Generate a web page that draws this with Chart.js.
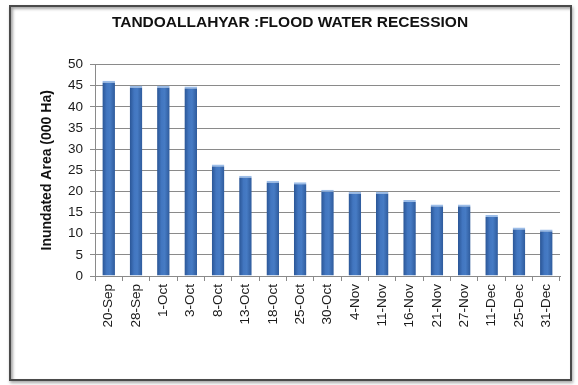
<!DOCTYPE html>
<html>
<head>
<meta charset="utf-8">
<title>Tando Allahyar flood water recession</title>
<script src="https://cdn.jsdelivr.net/npm/chart.js@4/dist/chart.umd.min.js"></script>
<style>
  html, body { margin: 0; padding: 0; background: #ffffff; }
  #wrap { position: relative; width: 578px; height: 385px; overflow: hidden; }
  #frame {
    position: absolute; left: 9px; top: 5px; width: 559px; height: 372px;
    border: 2px solid #4a4a4a;
    box-shadow: inset 2px 2px 3px rgba(0,0,0,0.35), 1px 2px 3px rgba(0,0,0,0.35);
    background: #ffffff;
  }
  #chart { position: absolute; left: 0; top: 0; }
</style>
</head>
<body>
<div id="wrap">
  <div id="frame"></div>
  <canvas id="chart" width="578" height="385"></canvas>
</div>
<script>
// Survey dates and inundated area (thousand hectares)
const dates = ['20-Sep', '28-Sep', '1-Oct', '3-Oct', '8-Oct', '13-Oct', '18-Oct', '25-Oct',
  '30-Oct', '4-Nov', '11-Nov', '16-Nov', '21-Nov', '27-Nov', '11-Dec', '25-Dec', '31-Dec'];
const inundatedArea = [46.2, 45.0, 45.0, 44.8, 26.4, 23.7, 22.5, 22.2,
  20.4, 19.9, 19.9, 18.0, 16.9, 16.9, 14.4, 11.5, 11.0];
const yTicks = [0, 5, 10, 15, 20, 25, 30, 35, 40, 45, 50];

const BAR_PCT = 0.46;
const FONT = "'Liberation Sans', Arial, sans-serif";

// Cylinder-like shading across each bar
function barFill(ctx) {
  const chart = ctx.chart;
  const xs = chart.scales && chart.scales.x;
  if (!xs || ctx.type !== 'data' || !isFinite(xs.width)) return '#3d70b8';
  const cx = xs.getPixelForValue(ctx.dataIndex);
  const half = (xs.width / dates.length) * BAR_PCT / 2;
  const g = chart.ctx.createLinearGradient(cx - half, 0, cx + half, 0);
  g.addColorStop(0, '#2a5595');
  g.addColorStop(0.35, '#4276c0');
  g.addColorStop(0.6, '#467bc4');
  g.addColorStop(1, '#2e5a9b');
  return g;
}

new Chart(document.getElementById('chart'), {
  type: 'bar',
  data: {
    labels: dates,
    datasets: [{
      data: inundatedArea,
      backgroundColor: barFill,
      borderColor: '#9cbde8',
      borderWidth: { top: 2, left: 0, right: 0, bottom: 0 },
      borderSkipped: 'bottom',
      barPercentage: BAR_PCT,
      categoryPercentage: 1
    }]
  },
  options: {
    responsive: false,
    animation: false,
    devicePixelRatio: 1,
    layout: { padding: { left: 20, right: 18, top: 0, bottom: 0 } },
    plugins: {
      legend: { display: false },
      tooltip: { enabled: false },
      title: {
        display: true,
        text: 'TANDOALLAHYAR :FLOOD WATER RECESSION',
        color: '#111111',
        font: { family: FONT, size: 15.5, weight: 'bold', lineHeight: 1.2 },
        padding: { top: 13, bottom: 33 }
      }
    },
    scales: {
      x: {
        grid: { display: true, drawOnChartArea: false, offset: true, tickLength: 5, color: '#8a8a8a' },
        border: { display: true, color: '#8a8a8a', width: 1 },
        ticks: {
          autoSkip: false, minRotation: 90, maxRotation: 90, padding: 3,
          color: '#1a1a1a', font: { family: FONT, size: 13.5 }
        },
        afterFit: (s) => { s.height = 109; }
      },
      y: {
        min: 0, max: 50,
        afterBuildTicks: (s) => { s.ticks = yTicks.map(v => ({ value: v })); },
        grid: { color: '#8a8a8a', tickLength: 5, lineWidth: 1 },
        border: { display: true, color: '#8a8a8a', width: 1 },
        ticks: { padding: 7, color: '#1a1a1a', font: { family: FONT, size: 13.5 } },
        title: {
          display: true,
          text: 'Inundated Area (000 Ha)',
          color: '#111111',
          font: { family: FONT, size: 14, weight: 'bold', lineHeight: 1.2 },
          padding: { top: 18.5, bottom: 0 }
        },
        afterFit: (s) => { s.width = 75; }
      }
    }
  }
});
</script>
</body>
</html>
